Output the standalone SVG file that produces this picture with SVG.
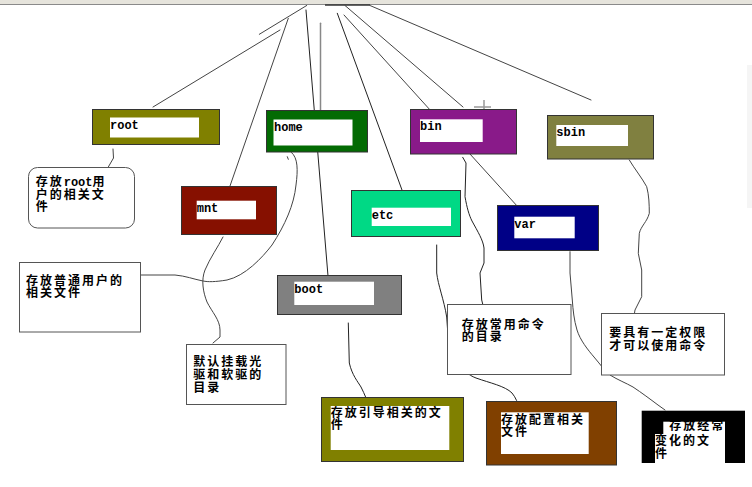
<svg xmlns="http://www.w3.org/2000/svg" width="752" height="487" viewBox="0 0 752 487">
<style>
.box{stroke:#333;stroke-width:1}
.in{fill:#fff}
.lbl{font-family:"Liberation Mono","Noto Sans CJK SC",monospace;font-size:12px;font-weight:bold;fill:#000}
.note{fill:#fff;stroke:#555;stroke-width:1}
.zh{font-family:"Noto Sans CJK SC","Noto Sans CJK JP",sans-serif;font-size:12px;font-weight:bold;letter-spacing:2px;fill:#000}
.zh tspan.lat{font-family:"Liberation Mono",monospace;font-size:12px;letter-spacing:0}
.c{fill:none;stroke:#444;stroke-width:1;stroke-linejoin:round;stroke-linecap:round}
.g{stroke:#888}
.k{stroke:#222}
</style>
<rect x="0" y="0" width="752" height="487" fill="#fff"/>
<rect x="0" y="0" width="752" height="4" fill="#e6e4dc"/>
<line x1="0" y1="4.5" x2="752" y2="4.5" stroke="#8a8a8a" stroke-width="1"/>
<line x1="325" y1="5" x2="370" y2="5" stroke="#333" stroke-width="1.5"/>
<rect x="747" y="65" width="5" height="143" fill="#f5f5f5"/>

<g id="connectors">
  <line class="c" x1="306.7" y1="5.5" x2="259.3" y2="34.3"/>
  <line class="c" x1="280" y1="30" x2="153" y2="107"/>
  <line class="c" x1="288.3" y1="18.3" x2="230" y2="186"/>
  <line class="c k" x1="306" y1="10" x2="328" y2="276"/>
  <line class="c g" x1="320.5" y1="23.3" x2="320.5" y2="116" style="stroke-width:1.5"/>
  <line class="c k" x1="337.3" y1="13.3" x2="402" y2="190"/>
  <line class="c" x1="344" y1="15" x2="518" y2="207"/>
  <line class="c" x1="345" y1="5.5" x2="463" y2="107"/>
  <line class="c" x1="370" y1="5.5" x2="591" y2="100"/>
  <path class="c" d="M113,149 L113.5,158 L108,167.5"/>
  <path class="c" d="M291.5,152.5 C298,158 298,170 296,185 C294,205 285,225 272,245 C262,258 245,276 227,280 C215,282 208,282 203,281 C193,279 186,276 175,275 L140,275"/>
  <path class="c" d="M287.3,156.7 L288.3,159.3"/>
  <path class="c" d="M223,237 C218,247 210,258 205,270 C201,280 203,292 207,302 C212,312 220,320 220,330 L220,337 L213,343"/>
  <path class="c k" d="M348.3,323 L349.3,363 C352,375 358,382 361,387 C365,395 367,400 368.3,405"/>
  <path class="c k" d="M436.7,245 L436.7,273 C438,285 444,300 446.7,317 L448.3,340 C450,350 453,356 457,361 C463,370 468,375 476,378 C490,383 505,386 512,393 C516,398 518,403 518.3,407"/>
  <path class="c k" d="M462.7,157.3 L466,163 L465,196.7 C467,208 469,215 472,221 C478,232 483,240 484,248 L484,263 L480,273 L481.7,300 L482.7,304"/>
  <path class="c" d="M570,251.7 L570,273 L572.3,300 C573,310 574,320 577,330 C580,340 588,350 594,357 C600,364 604,370 610,375 C618,380 626,383 633,387 C642,393 650,399 658,405 L665,410"/>
  <path class="c" d="M629.3,160 C634,168 642,178 646.7,186.7 C649,195 649.3,205 649.3,213.3 C647,222 641,226 639.3,233.3 L638.3,253.3 L641.7,270 L641.7,296.7 L635,310 L634.5,313"/>
  <g stroke="#999" stroke-width="1.5">
    <line x1="484" y1="100" x2="484" y2="116"/>
    <line x1="474" y1="107" x2="491" y2="107"/>
  </g>
</g>

<g id="root">
  <rect class="box" x="92.5" y="109.5" width="127" height="35" fill="#808000"/>
  <rect class="in" x="110" y="117.5" width="89" height="20"/>
  <text class="lbl" x="110" y="129">root</text>
</g>
<g id="home">
  <rect class="box" x="266.5" y="110.5" width="101" height="41.5" fill="#036b03"/>
  <rect class="in" x="273.5" y="119.5" width="79" height="26"/>
  <text class="lbl" x="274" y="130.5">home</text>
</g>
<g id="mnt">
  <rect class="box" x="181.5" y="186.5" width="95" height="48" fill="#861000"/>
  <rect class="in" x="196.7" y="200.7" width="59.3" height="18.6"/>
  <text class="lbl" x="196.7" y="212">mnt</text>
</g>
<g id="boot">
  <rect class="box" x="277.5" y="275.5" width="124" height="39" fill="#808080"/>
  <rect class="in" x="294.3" y="281.7" width="79.7" height="23.3"/>
  <text class="lbl" x="294.3" y="293">boot</text>
</g>
<g id="etc">
  <rect class="box" x="351.5" y="190.5" width="109" height="46" fill="#00d985"/>
  <rect class="in" x="371.7" y="207.7" width="79.3" height="18.3"/>
  <text class="lbl" x="371.7" y="219">etc</text>
</g>
<g id="bin">
  <rect class="box" x="410.5" y="109.5" width="106" height="44.5" fill="#891a89"/>
  <rect class="in" x="420" y="119.3" width="62.7" height="22.7"/>
  <text class="lbl" x="420" y="130">bin</text>
</g>
<g id="sbin">
  <rect class="box" x="547.5" y="115.5" width="106" height="43.5" fill="#808040"/>
  <rect class="in" x="556.3" y="125" width="71.7" height="21"/>
  <text class="lbl" x="556.3" y="136">sbin</text>
</g>
<g id="var">
  <rect class="box" x="497.5" y="205.5" width="101" height="45" fill="#000086"/>
  <rect class="in" x="514.3" y="216.7" width="60.4" height="21.6"/>
  <text class="lbl" x="514.3" y="228">var</text>
</g>

<g id="root-note">
  <rect class="note" x="28.5" y="167.5" width="106" height="60.5" rx="9"/>
  <text class="zh"><tspan x="35.7" y="186">存放<tspan class="lat">root</tspan>用</tspan><tspan x="35.7" y="198.5">户的相关文</tspan><tspan x="35.7" y="211">件</tspan></text>
</g>
<g id="home-note">
  <rect class="note" x="19.5" y="262.5" width="121" height="69.5"/>
  <text class="zh"><tspan x="26" y="284.5">存放普通用户的</tspan><tspan x="26" y="297">相关文件</tspan></text>
</g>
<g id="mnt-note">
  <rect class="note" x="186.5" y="344.5" width="99.5" height="60"/>
  <text class="zh"><tspan x="193.3" y="365.5">默认挂载光</tspan><tspan x="193.3" y="379">驱和软驱的</tspan><tspan x="193.3" y="392">目录</tspan></text>
</g>
<g id="boot-note">
  <rect class="box" x="321.5" y="397.5" width="142" height="64" fill="#808000"/>
  <rect class="in" x="330.7" y="406" width="118.6" height="44"/>
  <text class="zh"><tspan x="330.7" y="417">存放引导相关的文</tspan><tspan x="330.7" y="429">件</tspan></text>
</g>
<g id="etc-note">
  <rect class="box" x="486.5" y="401.5" width="130" height="63.5" fill="#804000"/>
  <rect class="in" x="501" y="412.3" width="87.7" height="41.7"/>
  <text class="zh"><tspan x="501" y="423.7">存放配置相关</tspan><tspan x="501" y="435.8">文件</tspan></text>
</g>
<g id="bin-note">
  <rect class="note" x="447.5" y="304.5" width="123.5" height="70"/>
  <text class="zh"><tspan x="461.7" y="328.7">存放常用命令</tspan><tspan x="461.7" y="340.8">的目录</tspan></text>
</g>
<g id="sbin-note">
  <rect class="note" x="601.5" y="313.5" width="123" height="61.5"/>
  <text class="zh"><tspan x="609.3" y="337">要具有一定权限</tspan><tspan x="609.3" y="349.7">才可以使用命令</tspan></text>
</g>
<g id="var-note">
  <rect x="641.7" y="410.7" width="103.3" height="52.3" fill="#000"/>
  <rect class="in" x="663.3" y="421.7" width="61.7" height="41.3"/>
  <rect class="in" x="655" y="434" width="9" height="29"/>
  <text class="zh"><tspan x="669.3" y="430">存放经常</tspan><tspan x="655" y="445">变化的文</tspan><tspan x="655" y="458">件</tspan></text>
</g>
</svg>
